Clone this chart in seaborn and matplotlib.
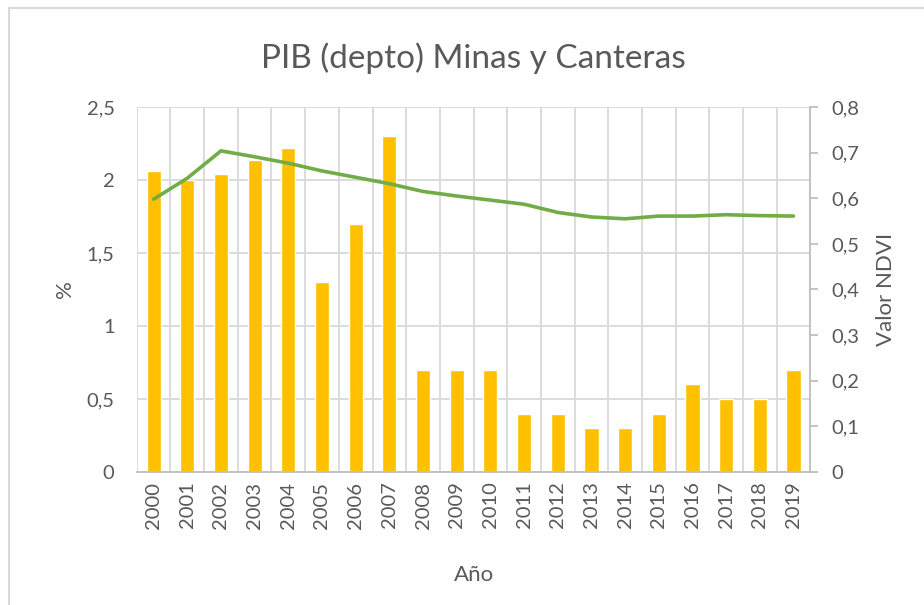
import matplotlib
matplotlib.use("Agg")
import matplotlib.pyplot as plt
from matplotlib.lines import Line2D
import seaborn as sns
import numpy as np
import pandas as pd

years = [str(y) for y in range(2000, 2020)]
pib = [2.06, 2.0, 2.04, 2.14, 2.22, 1.3, 1.7, 2.3, 0.7, 0.7,
       0.7, 0.4, 0.4, 0.3, 0.3, 0.4, 0.6, 0.5, 0.5, 0.7]
ndvi = [0.598, 0.644, 0.704, 0.691, 0.677, 0.660, 0.646, 0.632, 0.615, 0.605,
        0.596, 0.587, 0.569, 0.559, 0.555, 0.561, 0.561, 0.564, 0.562, 0.561]
left_ticks = [0, 0.5, 1, 1.5, 2, 2.5]
right_ticks = [0, 0.1, 0.2, 0.3, 0.4, 0.5, 0.6, 0.7, 0.8]

sns.set_theme(style="white")
plt.rcParams['font.family'] = ['Lato', 'DejaVu Sans']

TXT = "#595959"
GRID = "#D9D9D9"
AX = "#BFBFBF"

df = pd.DataFrame({"Año": years, "PIB": pib, "NDVI": ndvi, "pos": np.arange(len(years))})

fig = plt.figure(figsize=(9.24, 6.05), dpi=100)
ax = fig.add_axes([0.148, 0.22, 0.729, 0.603])

sns.barplot(data=df, x="Año", y="PIB", color="#FFC000", width=0.42,
            saturation=1, ax=ax, zorder=3)
ax.set_ylim(0, 2.5)
ax.set_xlim(-0.5, len(years) - 0.5)
ax.set_yticks(left_ticks)
ax.set_yticklabels([f"{t:g}".replace(".", ",") for t in left_ticks],
                   fontsize=14.5, color=TXT)
ax.tick_params(axis="y", length=0, pad=16)
ax.tick_params(axis="x", length=0, pad=7)
plt.setp(ax.get_xticklabels(), rotation=90, fontsize=14.5, color=TXT)
ax.grid(axis="y", color=GRID, linewidth=1.3, zorder=0)
for xb in np.arange(-0.5, len(years), 1.0):
    ax.axvline(xb, color=GRID, linewidth=1.3, zorder=0)
for s in ["top", "left", "right"]:
    ax.spines[s].set_visible(False)
ax.spines["bottom"].set_color(AX)
ax.spines["bottom"].set_linewidth(1.3)
ax.spines["bottom"].set_zorder(5)
ax.set_xlabel("Año", fontsize=16, color=TXT, labelpad=26)
ax.set_ylabel("%", fontsize=16, color=TXT, labelpad=8)

ax2 = ax.twinx()
sns.lineplot(data=df, x="pos", y="NDVI", color="#70AD47", linewidth=2.6,
             ax=ax2, zorder=4)
ax2.set_ylim(0, 0.8)
ax2.set_xlim(-0.5, len(years) - 0.5)
ax2.set_yticks(right_ticks)
ax2.set_yticklabels([f"{t:g}".replace(".", ",") for t in right_ticks],
                    fontsize=14.5, color=TXT)
ax2.tick_params(axis="y", length=6, width=1.3, color=AX, direction="out", pad=9)
for s in ["top", "left", "bottom"]:
    ax2.spines[s].set_visible(False)
ax2.spines["right"].set_color(AX)
ax2.spines["right"].set_linewidth(1.3)
ax2.set_ylabel("Valor NDVI", fontsize=16, color=TXT, labelpad=12)
ax2.set_xlabel("")
ax2.grid(False)

ax.set_title("PIB (depto) Minas y Canteras", fontsize=24, color=TXT, pad=28)

# chart-area frame (visible top and left edges)
fig.add_artist(Line2D([0.0098, 1.0], [0.987, 0.987], color=GRID, linewidth=1.5,
                      transform=fig.transFigure))
fig.add_artist(Line2D([0.0098, 0.0098], [0.0, 0.987], color=GRID, linewidth=1.5,
                      transform=fig.transFigure))

fig.savefig("out.png", dpi=100)
